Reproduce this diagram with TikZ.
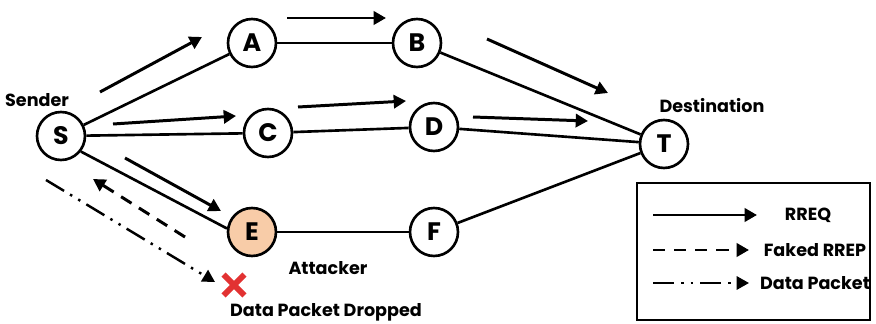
\documentclass[tikz,border=0pt]{standalone}
\usepackage{fontspec}
\setmainfont{Poppins}
\usetikzlibrary{positioning, arrows.meta, calc, shapes.misc}
\definecolor{attackfill}{RGB}{248,204,168}
\definecolor{dropred}{RGB}{226,50,50}
\tikzset{
  router/.style={
    draw,
    circle,
    line width=1.5pt,
    minimum size=0.96cm,
    inner sep=0pt,
    fill=white,
    font=\bfseries\Large
  },
  link/.style={
    line width=1.5pt
  },
  rreq/.style={
    line width=1.7pt,
    -{Triangle[length=7pt,width=7.5pt]}
  },
  fakerrep/.style={
    line width=1.7pt,
    dash pattern=on 7pt off 5pt,
    -{Triangle[length=7pt,width=7.5pt]}
  },
  datapkt/.style={
    line width=1.4pt,
    dash pattern=on 12pt off 4pt on 1.4pt off 4pt on 1.4pt off 4pt,
    -{Triangle[length=7pt,width=7.5pt]}
  },
  tag/.style={
    font=\bfseries
  }
}

\begin{document}
\begin{tikzpicture}[x=0.02cm, y=-0.02cm]
    \useasboundingbox (0,0) rectangle (876,324);
    % routers
    \node[router] (s) at (61,136) {S};
    \node[router] (a) at (252,43) {A};
    \node[router] (b) at (417,43) {B};
    \node[router] (c) at (268,133) {C};
    \node[router] (d) at (434,127) {D};
    \node[router] (t) at (664,144) {T};
    \node[router, fill=attackfill] (e) at (252,232) {E};
    \node[router] (f) at (434,232) {F};

    % links
    \draw[link] (s) -- (a);
    \draw[link] (a) -- (b);
    \draw[link] (b) -- (t);
    \draw[link] (s) -- (c);
    \draw[link] (c) -- (d);
    \draw[link] (d) -- (t);
    \draw[link] (s.-38) -- (e.172);
    \draw[link] (e) -- (f);
    \draw[link] (f) -- (t);

    % labels
    \node[tag] (sender) at (37,100) {Sender};
    \node[tag] (dest) at (712,106) {Destination};
    \node[tag] (attacker) at (328,268) {Attacker};
    \node[tag] (dropped) at (326,312) {Data Packet Dropped};
    \node[cross out, draw=dropred, line width=3.4pt, minimum size=0.3cm] (cross) at (234,285) {};

    % route request flow
    \coordinate (sa1) at (100,92);   \coordinate (sa2) at (202,37);
    \coordinate (ab1) at (287,18);   \coordinate (ab2) at (386,18);
    \coordinate (bt1) at (487,39);   \coordinate (bt2) at (608,93);
    \coordinate (sc1) at (113,124);  \coordinate (sc2) at (236,116);
    \coordinate (cd1) at (298,107);  \coordinate (cd2) at (406,101);
    \coordinate (dt1) at (473,117);  \coordinate (dt2) at (588,121);
    \coordinate (se1) at (125,158);  \coordinate (se2) at (221,211);
    \draw[rreq] (sa1) -- (sa2);
    \draw[rreq] (ab1) -- (ab2);
    \draw[rreq] (bt1) -- (bt2);
    \draw[rreq] (sc1) -- (sc2);
    \draw[rreq] (cd1) -- (cd2);
    \draw[rreq] (dt1) -- (dt2);
    \draw[rreq] (se1) -- (se2);

    % attack
    \coordinate (rep1) at (185,237); \coordinate (rep2) at (93,179);
    \coordinate (dp1) at (46,180);   \coordinate (dp2) at (215,282);
    \draw[fakerrep] (rep1) -- (rep2);
    \draw[datapkt] (dp1) -- (dp2);

    % legend
    \node[draw, line width=1.5pt, minimum width=4.66cm, minimum height=2.74cm] (legend) at (753.5,251.5) {};
    \coordinate (l1a) at (653,215); \coordinate (l1b) at (757,215);
    \coordinate (l2a) at (653,250); \coordinate (l2b) at (749,250);
    \coordinate (l3a) at (653,283); \coordinate (l3b) at (749,283);
    \draw[rreq] (l1a) -- (l1b);
    \draw[fakerrep] (l2a) -- (l2b);
    \draw[datapkt] (l3a) -- (l3b);
    \node[tag] (lrreq) at (808,215) {RREQ};
    \node[tag] (lrrep) at (815,250) {Faked RREP};
    \node[tag] (ldata) at (815,283) {Data Packet};
\end{tikzpicture}
\end{document}
